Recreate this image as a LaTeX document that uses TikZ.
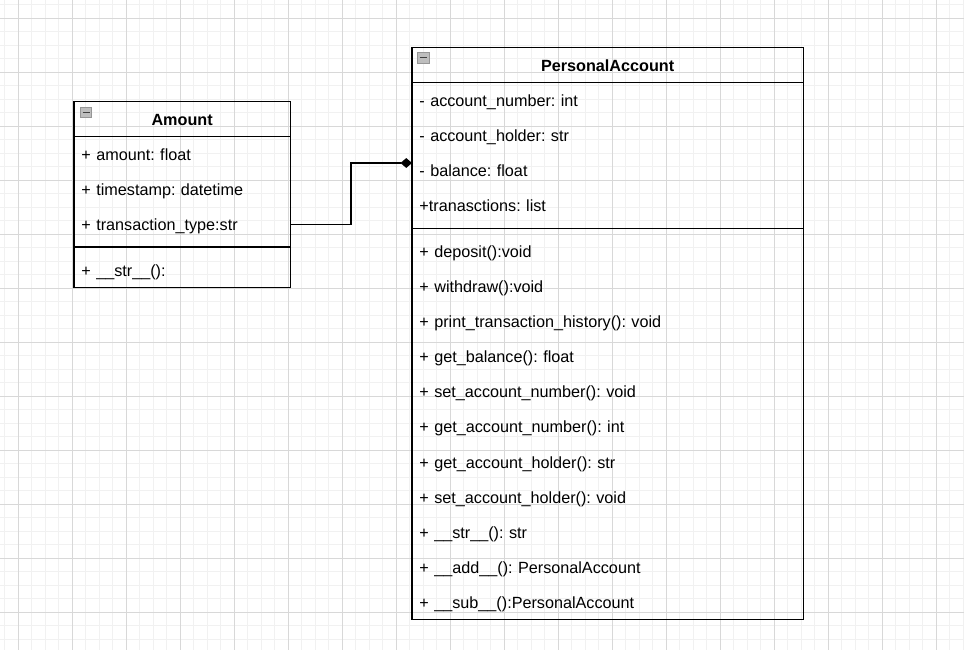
\documentclass[tikz,border=0pt]{standalone}
\usepackage{fontspec}
\setmainfont{Liberation Sans}
\usetikzlibrary{arrows.meta,fit}
\frenchspacing
\definecolor{minorgrid}{RGB}{241,241,241}
\definecolor{majorgrid}{RGB}{216,216,216}
\definecolor{iconfill}{RGB}{190,190,190}
\definecolor{iconborder}{RGB}{150,150,150}
\tikzset{
  rowbase/.style={draw=none, rectangle, inner xsep=5.6pt, inner ysep=0pt, outer sep=0pt,
    minimum height=26.325pt, text height=11pt, text depth=1.5pt, anchor=north west,
    font=\fontsize{12.15}{14}\selectfont\frenchspacing},
  arow/.style={rowbase, align=left, text width=151pt, minimum width=162.2pt},
  prow/.style={rowbase, align=left, text width=282.3pt, minimum width=293.5pt},
  hdr/.style={rowbase, draw=black, line width=1pt, align=center,
    font=\fontsize{12.15}{14}\selectfont\bfseries},
  sepbox/.style={draw=none, rectangle, inner sep=0pt, outer sep=0pt, minimum height=8.1pt, anchor=north west},
  outerbox/.style={draw=black, line width=1pt, inner sep=0pt, outer sep=0pt},
  sepline/.style={draw=black, line width=1pt},
  conn/.style={draw=black, line width=0.85pt},
  iconbox/.style={draw=iconborder, fill=iconfill, line width=0.6pt},
  iconbar/.style={draw=black!75, line width=1.3pt},
}
\begin{document}
\begin{tikzpicture}[x=0.75pt,y=-0.75pt]
\useasboundingbox (0,0) rectangle (964,650);
\fill[white] (0,0) rectangle (964,650);
% grid
\foreach \i in {0,...,71} { \draw[minorgrid, line width=0.75pt] ({4.8+13.5*\i},0) -- ++(0,650); }
\foreach \i in {0,...,47} { \draw[minorgrid, line width=0.75pt] (0,{4.8+13.5*\i}) -- ++(964,0); }
\foreach \i in {0,...,17} { \draw[majorgrid, line width=0.75pt] ({18.3+54*\i},0) -- ++(0,650); }
\foreach \i in {0,...,11} { \draw[majorgrid, line width=0.75pt] (0,{18.3+54*\i}) -- ++(964,0); }

% Amount class
\node[hdr, minimum width=162.2pt] (ahead) at (74,101.3) {Amount};
\node[arow] (a1) at (ahead.south west) {+ amount: float};
\node[arow] (a2) at (a1.south west) {+ timestamp: datetime};
\node[arow] (a3) at (a2.south west) {+ transaction\_type:str};
\node[sepbox, minimum width=162.2pt] (asep) at (a3.south west) {};
\node[arow] (am1) at (asep.south west) {+ \_\_str\_\_():};
\node[outerbox, fit=(ahead)(am1)] (amount) {};
\draw[sepline] (asep.west) -- (asep.east);
\draw[iconbox] (80.5,107.2) rectangle (91.8,117.8);
\draw[iconbar] (82.6,112.5) -- (89.7,112.5);

% PersonalAccount class
\node[hdr, minimum width=293.5pt] (phead) at (412,47.3) {PersonalAccount};
\node[prow] (p1) at (phead.south west) {- account\_number: int};
\node[prow] (p2) at (p1.south west) {- account\_holder: str};
\node[prow] (p3) at (p2.south west) {- balance: float};
\node[prow] (p4) at (p3.south west) {+tranasctions: list};
\node[sepbox, minimum width=293.5pt] (psep) at (p4.south west) {};
\node[prow] (m1) at (psep.south west) {+ deposit():void};
\node[prow] (m2) at (m1.south west) {+ withdraw():void};
\node[prow] (m3) at (m2.south west) {+ print\_transaction\_history(): void};
\node[prow] (m4) at (m3.south west) {+ get\_balance(): float};
\node[prow] (m5) at (m4.south west) {+ set\_account\_number(): void};
\node[prow] (m6) at (m5.south west) {+ get\_account\_number(): int};
\node[prow] (m7) at (m6.south west) {+ get\_account\_holder(): str};
\node[prow] (m8) at (m7.south west) {+ set\_account\_holder(): void};
\node[prow] (m9) at (m8.south west) {+ \_\_str\_\_(): str};
\node[prow] (m10) at (m9.south west) {+ \_\_add\_\_(): PersonalAccount};
\node[prow] (m11) at (m10.south west) {+ \_\_sub\_\_():PersonalAccount};
\node[outerbox, fit=(phead)(m11)] (pa) {};
\draw[sepline] (psep.west) -- (psep.east);
\draw[iconbox] (417.5,52.2) rectangle (429,62.9);
\draw[iconbar] (419.7,57.5) -- (426.8,57.5);

% composition connector
\coordinate (bend) at (351,163);
\draw[conn, -{Diamond[length=8.6pt,width=7.4pt]}] (a3.east) -| (bend) -- (bend -| pa.west);
\end{tikzpicture}
\end{document}
